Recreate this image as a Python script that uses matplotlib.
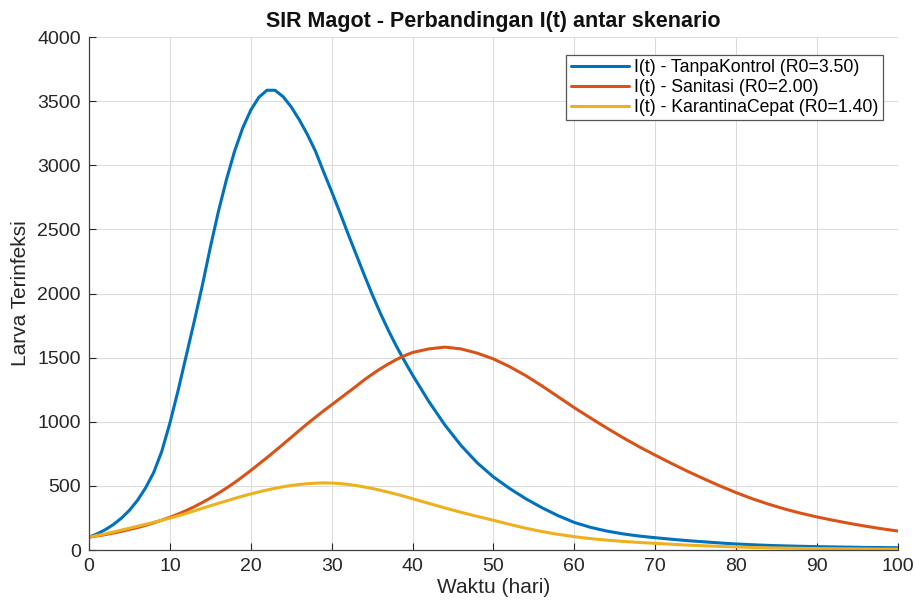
import matplotlib
matplotlib.use("Agg")
import matplotlib.pyplot as plt

plt.rcParams['font.family'] = ['Liberation Sans', 'DejaVu Sans']

# waktu (hari)
t = list(range(0, 41)) + list(range(42, 101, 2))

I_tanpa = [100, 126, 158, 198, 248, 310, 388, 485, 605, 770,
           990, 1240, 1510, 1780, 2060, 2360, 2640, 2890, 3110, 3290,
           3430, 3530, 3585, 3585, 3535, 3455, 3355, 3240, 3110, 2950,
           2795, 2635, 2470, 2310, 2150, 1995, 1850, 1715, 1590, 1475,
           1365,
           1160, 975, 815, 680, 570, 480, 400, 330, 268, 215,
           177, 148, 126, 109, 96, 84, 73, 64, 55, 47,
           41, 36, 32, 29, 26, 24, 22, 20, 19, 18]

I_sanitasi = [100, 110, 120, 132, 145, 160, 175, 192, 212, 233,
              255, 280, 307, 337, 370, 405, 443, 483, 526, 572,
              620, 670, 720, 772, 825, 878, 932, 985, 1035, 1085,
              1132, 1180, 1228, 1275, 1325, 1370, 1412, 1450, 1485, 1515,
              1540,
              1568, 1582, 1568, 1535, 1490, 1430, 1360, 1280, 1195, 1110,
              1030, 952, 877, 806, 740, 676, 614, 556, 500, 448,
              400, 358, 320, 287, 258, 232, 208, 186, 166, 148]

I_karantina = [100, 113, 126, 140, 155, 170, 185, 200, 216, 232,
               248, 266, 285, 305, 325, 345, 364, 383, 402, 420,
               437, 453, 468, 481, 493, 503, 511, 517, 521, 523,
               522, 518, 512, 503, 492, 480, 466, 451, 435, 418,
               400,
               364, 328, 294, 262, 232, 200, 170, 144, 122, 104,
               89, 77, 67, 59, 52, 45, 38, 33, 28, 24,
               20, 17, 15, 13, 11, 10, 9, 8, 7, 7]

labels = ['I(t) - TanpaKontrol (R0=3.50)',
          'I(t) - Sanitasi (R0=2.00)',
          'I(t) - KarantinaCepat (R0=1.40)']
colors = ['#0072BD', '#D95319', '#EDB120']

fig = plt.figure(figsize=(9.15, 6.04), dpi=100)
ax = fig.add_axes([0.0973, 0.0894, 0.8838, 0.8493])

for y, lab, c in zip([I_tanpa, I_sanitasi, I_karantina], labels, colors):
    ax.plot(t, y, color=c, lw=2.2, label=lab,
            solid_joinstyle='round', solid_capstyle='round')

ax.set_xlim(0, 100)
ax.set_ylim(0, 4000)
ax.set_xticks(range(0, 101, 10))
ax.set_yticks(range(0, 4001, 500))
ax.grid(True, color='#dcdcdc', lw=0.8)
ax.set_axisbelow(True)
for s in ['top', 'right']:
    ax.spines[s].set_visible(False)
for s in ['left', 'bottom']:
    ax.spines[s].set_color('#404040')
    ax.spines[s].set_linewidth(0.9)
ax.tick_params(direction='in', length=5, width=0.8, colors='#262626',
               labelsize=14, pad=6)

ax.set_xlabel('Waktu (hari)', fontsize=15, color='#262626', labelpad=2)
ax.set_ylabel('Larva Terinfeksi', fontsize=15, color='#262626', labelpad=5)
ax.set_title('SIR Magot - Perbandingan I(t) antar skenario',
             fontsize=15.5, fontweight='bold', color='#111111', pad=7)

leg = ax.legend(loc='upper right', bbox_to_anchor=(0.982, 0.965),
                borderaxespad=0, fontsize=12.7, fancybox=False,
                framealpha=1, edgecolor='#555555', handlelength=3.3,
                handletextpad=0.3, labelspacing=0.15, borderpad=0.25)
leg.get_frame().set_linewidth(0.9)

fig.savefig('out.png', dpi=100)
